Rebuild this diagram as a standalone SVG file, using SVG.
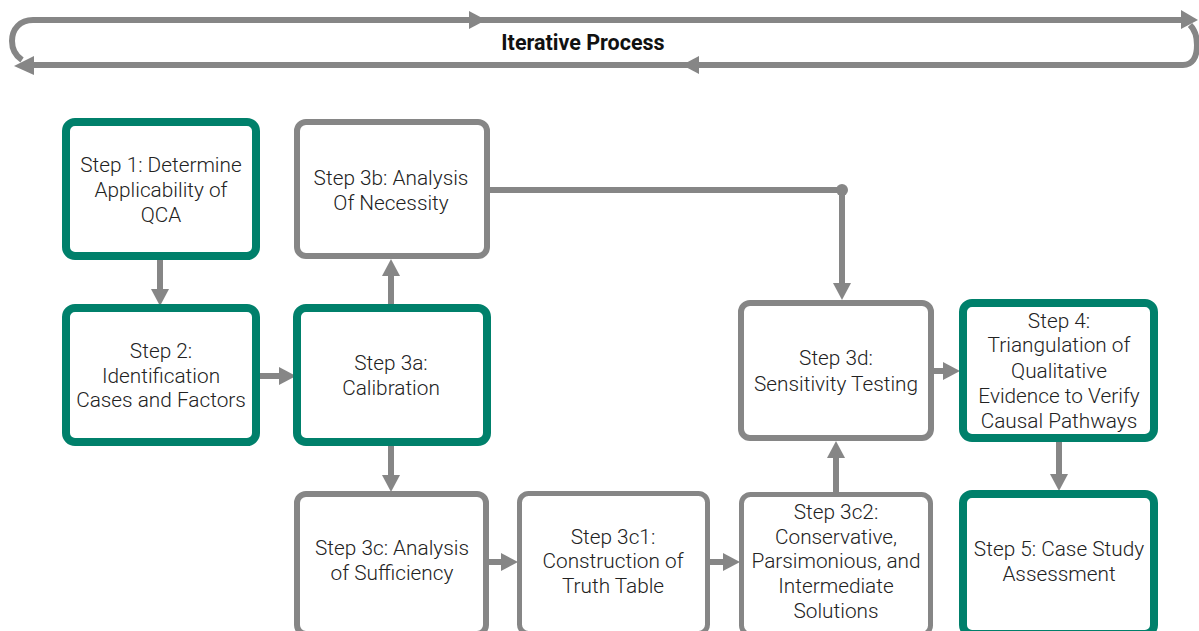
<svg xmlns="http://www.w3.org/2000/svg" width="1199" height="631" viewBox="0 0 1199 631">
<style>
.box{fill:#fff;stroke-linejoin:round}
.teal{stroke:#00806B;stroke-width:8}
.gray{stroke:#868686;stroke-width:6}
.thin{stroke:#868686;stroke-width:5}
.t{font-family:Roboto,"Liberation Sans",sans-serif;font-weight:300;font-size:20.8px;fill:#222;text-anchor:middle}
.c{fill:none;stroke:#868686;stroke-width:6}
.ah{fill:#868686}
</style>
<g id="loop">
<path class="c" d="M1190,20 L33,20 C20,20 12,29 12,41 C12,50 16,56 22,60"/>
<path class="c" d="M30,65 L1183,65 C1192,65 1197,58 1197,45 C1197,35 1194,29 1190,25"/>
<path class="ah" d="M14,66 L34,56 L34,75 z"/>
<path class="ah" d="M1198,20 L1181,10 L1181,29 z"/>
<path class="ah" d="M486,20 L469,11 L469,29 z"/>
<path class="ah" d="M682,65 L699,56 L699,74 z"/>
<text x="583" y="50" style="font-family:Roboto,'Liberation Sans',sans-serif;font-weight:700;font-size:21.5px;fill:#111;text-anchor:middle">Iterative Process</text>
</g>
<g id="connectors">
<path class="c" d="M160,260 L160,290"/><path class="ah" d="M160,306 L151,289 L169,289 z"/>
<path class="c" d="M260,376 L280,376"/><path class="ah" d="M296,376 L279,367 L279,385 z"/>
<path class="c" d="M391,304 L391,275"/><path class="ah" d="M391,259 L382,276 L400,276 z"/>
<path class="c" d="M490,190 L842,190 L842,284"/><circle cx="842" cy="190" r="6" fill="#868686"/><path class="ah" d="M842,300 L833,283 L851,283 z"/>
<path class="c" d="M391,446 L391,476"/><path class="ah" d="M391,492 L382,475 L400,475 z"/>
<path class="c" d="M489,562 L502,562"/><path class="ah" d="M518,562 L501,553 L501,571 z"/>
<path class="c" d="M710,562 L724,562"/><path class="ah" d="M740,562 L723,553 L723,571 z"/>
<path class="c" d="M836,492 L836,457"/><path class="ah" d="M836,441 L827,458 L845,458 z"/>
<path class="c" d="M934,371 L944,371"/><path class="ah" d="M960,371 L943,362 L943,380 z"/>
<path class="c" d="M1059,442 L1059,475"/><path class="ah" d="M1059,491 L1050,474 L1068,474 z"/>
</g>
<g id="step1"><rect class="box teal" x="66" y="122" width="190" height="134" rx="9"/>
<text class="t" x="161" y="172">Step 1: Determine</text><text class="t" x="161" y="197">Applicability of</text><text class="t" x="161" y="222">QCA</text></g>
<g id="step2"><rect class="box teal" x="66" y="308" width="190" height="134" rx="9"/>
<text class="t" x="161" y="358">Step 2:</text><text class="t" x="161" y="383">Identification</text><text class="t" x="161" y="407">Cases and Factors</text></g>
<g id="step3b"><rect class="box gray" x="297" y="122" width="190" height="134" rx="9"/>
<text class="t" x="391" y="185">Step 3b: Analysis</text><text class="t" x="391" y="210">Of Necessity</text></g>
<g id="step3a"><rect class="box teal" x="297" y="308" width="190" height="134" rx="9"/>
<text class="t" x="391" y="370">Step 3a:</text><text class="t" x="391" y="395">Calibration</text></g>
<g id="step3c"><rect class="box gray" x="297" y="494" width="189" height="140" rx="9"/>
<text class="t" x="392" y="555">Step 3c: Analysis</text><text class="t" x="392" y="580">of Sufficiency</text></g>
<g id="step3c1"><rect class="box thin" x="519.5" y="493.5" width="188" height="140" rx="9"/>
<text class="t" x="613" y="544">Step 3c1:</text><text class="t" x="613" y="568">Construction of</text><text class="t" x="613" y="593">Truth Table</text></g>
<g id="step3c2"><rect class="box thin" x="741.5" y="494.5" width="189" height="140" rx="9"/>
<text class="t" x="836" y="519">Step 3c2:</text><text class="t" x="836" y="544">Conservative,</text><text class="t" x="836" y="568">Parsimonious, and</text><text class="t" x="836" y="593">Intermediate</text><text class="t" x="836" y="618">Solutions</text></g>
<g id="step3d"><rect class="box gray" x="741" y="303" width="190" height="135" rx="9"/>
<text class="t" x="836" y="365">Step 3d:</text><text class="t" x="836" y="391">Sensitivity Testing</text></g>
<g id="step4"><rect class="box teal" x="963" y="303" width="191" height="135" rx="9"/>
<text class="t" x="1059" y="328">Step 4:</text><text class="t" x="1059" y="352">Triangulation of</text><text class="t" x="1059" y="378">Qualitative</text><text class="t" x="1059" y="403">Evidence to Verify</text><text class="t" x="1059" y="428">Causal Pathways</text></g>
<g id="step5"><rect class="box teal" x="963" y="494" width="191" height="140" rx="9"/>
<text class="t" x="1059" y="556">Step 5: Case Study</text><text class="t" x="1059" y="581">Assessment</text></g>
</svg>
